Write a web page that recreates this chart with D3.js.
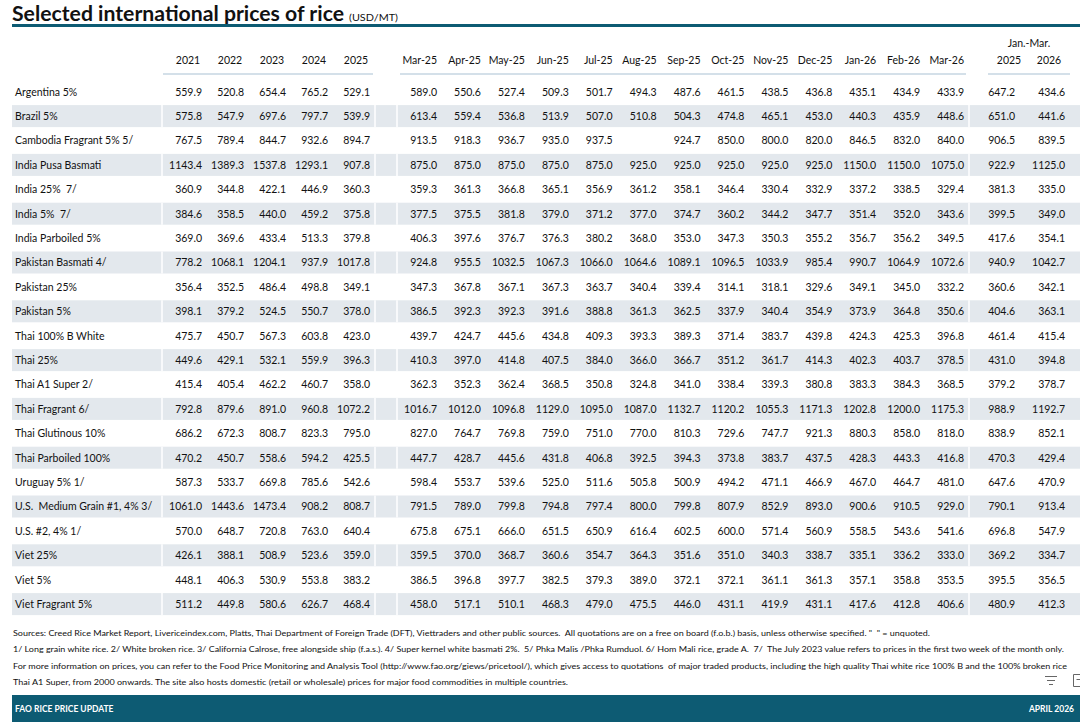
<!DOCTYPE html>
<meta charset="utf-8">
<style>
  body { margin: 0; background: #fff; }
  svg { display: block; font-family: Lato, "Open Sans", sans-serif; }
  text { white-space: pre; }
</style>
<svg width="1080" height="727"></svg>
<script src="https://d3js.org/d3.v7.min.js"></script>
<script>

  var varieties = [
    "Argentina 5%", "Brazil 5%", "Cambodia Fragrant 5% 5/", "India Pusa Basmati",
    "India 25%  7/", "India 5%  7/", "India Parboiled 5%", "Pakistan Basmati 4/",
    "Pakistan 25%", "Pakistan 5%", "Thai 100% B White", "Thai 25%",
    "Thai A1 Super 2/", "Thai Fragrant 6/", "Thai Glutinous 10%", "Thai Parboiled 100%",
    "Uruguay 5% 1/", "U.S.  Medium Grain #1, 4% 3/", "U.S. #2, 4% 1/", "Viet 25%",
    "Viet 5%", "Viet Fragrant 5%"
  ];

  var years = ["2021", "2022", "2023", "2024", "2025"];
  var months = ["Mar-25", "Apr-25", "May-25", "Jun-25", "Jul-25", "Aug-25", "Sep-25",
                "Oct-25", "Nov-25", "Dec-25", "Jan-26", "Feb-26", "Mar-26"];
  var periods = ["2025", "2026"];

  var annual = [
    [559.9, 520.8, 654.4, 765.2, 529.1],
    [575.8, 547.9, 697.6, 797.7, 539.9],
    [767.5, 789.4, 844.7, 932.6, 894.7],
    [1143.4, 1389.3, 1537.8, 1293.1, 907.8],
    [360.9, 344.8, 422.1, 446.9, 360.3],
    [384.6, 358.5, 440.0, 459.2, 375.8],
    [369.0, 369.6, 433.4, 513.3, 379.8],
    [778.2, 1068.1, 1204.1, 937.9, 1017.8],
    [356.4, 352.5, 486.4, 498.8, 349.1],
    [398.1, 379.2, 524.5, 550.7, 378.0],
    [475.7, 450.7, 567.3, 603.8, 423.0],
    [449.6, 429.1, 532.1, 559.9, 396.3],
    [415.4, 405.4, 462.2, 460.7, 358.0],
    [792.8, 879.6, 891.0, 960.8, 1072.2],
    [686.2, 672.3, 808.7, 823.3, 795.0],
    [470.2, 450.7, 558.6, 594.2, 425.5],
    [587.3, 533.7, 669.8, 785.6, 542.6],
    [1061.0, 1443.6, 1473.4, 908.2, 808.7],
    [570.0, 648.7, 720.8, 763.0, 640.4],
    [426.1, 388.1, 508.9, 523.6, 359.0],
    [448.1, 406.3, 530.9, 553.8, 383.2],
    [511.2, 449.8, 580.6, 626.7, 468.4]
  ];

  // null = unquoted
  var monthly = [
    [589.0, 550.6, 527.4, 509.3, 501.7, 494.3, 487.6, 461.5, 438.5, 436.8, 435.1, 434.9, 433.9],
    [613.4, 559.4, 536.8, 513.9, 507.0, 510.8, 504.3, 474.8, 465.1, 453.0, 440.3, 435.9, 448.6],
    [913.5, 918.3, 936.7, 935.0, 937.5, null, 924.7, 850.0, 800.0, 820.0, 846.5, 832.0, 840.0],
    [875.0, 875.0, 875.0, 875.0, 875.0, 925.0, 925.0, 925.0, 925.0, 925.0, 1150.0, 1150.0, 1075.0],
    [359.3, 361.3, 366.8, 365.1, 356.9, 361.2, 358.1, 346.4, 330.4, 332.9, 337.2, 338.5, 329.4],
    [377.5, 375.5, 381.8, 379.0, 371.2, 377.0, 374.7, 360.2, 344.2, 347.7, 351.4, 352.0, 343.6],
    [406.3, 397.6, 376.7, 376.3, 380.2, 368.0, 353.0, 347.3, 350.3, 355.2, 356.7, 356.2, 349.5],
    [924.8, 955.5, 1032.5, 1067.3, 1066.0, 1064.6, 1089.1, 1096.5, 1033.9, 985.4, 990.7, 1064.9, 1072.6],
    [347.3, 367.8, 367.1, 367.3, 363.7, 340.4, 339.4, 314.1, 318.1, 329.6, 349.1, 345.0, 332.2],
    [386.5, 392.3, 392.3, 391.6, 388.8, 361.3, 362.5, 337.9, 340.4, 354.9, 373.9, 364.8, 350.6],
    [439.7, 424.7, 445.6, 434.8, 409.3, 393.3, 389.3, 371.4, 383.7, 439.8, 424.3, 425.3, 396.8],
    [410.3, 397.0, 414.8, 407.5, 384.0, 366.0, 366.7, 351.2, 361.7, 414.3, 402.3, 403.7, 378.5],
    [362.3, 352.3, 362.4, 368.5, 350.8, 324.8, 341.0, 338.4, 339.3, 380.8, 383.3, 384.3, 368.5],
    [1016.7, 1012.0, 1096.8, 1129.0, 1095.0, 1087.0, 1132.7, 1120.2, 1055.3, 1171.3, 1202.8, 1200.0, 1175.3],
    [827.0, 764.7, 769.8, 759.0, 751.0, 770.0, 810.3, 729.6, 747.7, 921.3, 880.3, 858.0, 818.0],
    [447.7, 428.7, 445.6, 431.8, 406.8, 392.5, 394.3, 373.8, 383.7, 437.5, 428.3, 443.3, 416.8],
    [598.4, 553.7, 539.6, 525.0, 511.6, 505.8, 500.9, 494.2, 471.1, 466.9, 467.0, 464.7, 481.0],
    [791.5, 789.0, 799.8, 794.8, 797.4, 800.0, 799.8, 807.9, 852.9, 893.0, 900.6, 910.5, 929.0],
    [675.8, 675.1, 666.0, 651.5, 650.9, 616.4, 602.5, 600.0, 571.4, 560.9, 558.5, 543.6, 541.6],
    [359.5, 370.0, 368.7, 360.6, 354.7, 364.3, 351.6, 351.0, 340.3, 338.7, 335.1, 336.2, 333.0],
    [386.5, 396.8, 397.7, 382.5, 379.3, 389.0, 372.1, 372.1, 361.1, 361.3, 357.1, 358.8, 353.5],
    [458.0, 517.1, 510.1, 468.3, 479.0, 475.5, 446.0, 431.1, 419.9, 431.1, 417.6, 412.8, 406.6]
  ];

  var janMar = [
    [647.2, 434.6], [651.0, 441.6], [906.5, 839.5], [922.9, 1125.0], [381.3, 335.0],
    [399.5, 349.0], [417.6, 354.1], [940.9, 1042.7], [360.6, 342.1], [404.6, 363.1],
    [461.4, 415.4], [431.0, 394.8], [379.2, 378.7], [988.9, 1192.7], [838.9, 852.1],
    [470.3, 429.4], [647.6, 470.9], [790.1, 913.4], [696.8, 547.9], [369.2, 334.7],
    [395.5, 356.5], [480.9, 412.3]
  ];

  var footnotes = [
    "Sources: Creed Rice Market Report, Livericeindex.com, Platts, Thai Department of Foreign Trade (DFT), Viettraders and other public sources.  All quotations are on a free on board (f.o.b.) basis, unless otherwise specified. \"  \" = unquoted.",
    "1/ Long grain white rice. 2/ White broken rice. 3/ California Calrose, free alongside ship (f.a.s.). 4/ Super kernel white basmati 2%.  5/ Phka Malis /Phka Rumduol. 6/ Hom Mali rice, grade A.  7/  The July 2023 value refers to prices in the first two week of the month only.",
    "For more information on prices, you can refer to the Food Price Monitoring and Analysis Tool (http://www.fao.org/giews/pricetool/), which gives access to quotations  of major traded products, including the high quality Thai white rice 100% B and the 100% broken rice",
    "Thai A1 Super, from 2000 onwards. The site also hosts domestic (retail or wholesale) prices for major food commodities in multiple countries."
  ];
  var footWidths = [917, 1051, 1054, 555];

  // ---- layout ----
  var svg = d3.select("svg"),
      width = +svg.attr("width"),
      teal = "#0d5b73",
      stripe = "#e3e8ed",
      rule = "#c6d6e2",
      ink = "#111",
      fmt = d3.format(".1f");

  var y = d3.scaleBand().domain(varieties).range([79.5, 79.5 + 24.4 * varieties.length]);
  var xYear = d3.scalePoint().domain(years).range([202, 370]);
  var xMonth = d3.scalePoint().domain(months).range([437, 964]);
  var xPer = d3.scalePoint().domain(periods).range([1015, 1065]);
  var xPerHead = d3.scalePoint().domain(periods).range([1009, 1049]);

  // title
  svg.append("text")
      .attr("x", 12).attr("y", 21)
      .attr("font-size", 20).attr("font-weight", 700).attr("fill", ink)
      .attr("textLength", 332).attr("lengthAdjust", "spacingAndGlyphs")
      .text("Selected international prices of rice");
  svg.append("text")
      .attr("x", 349).attr("y", 21)
      .attr("font-size", 9.5).attr("fill", ink)
      .attr("textLength", 49).attr("lengthAdjust", "spacingAndGlyphs")
      .text("(USD/MT)");
  svg.append("rect")
      .attr("x", 12).attr("y", 24).attr("width", width - 12).attr("height", 3)
      .attr("fill", teal);

  // stripes
  var rows = svg.append("g");
  rows.selectAll("rect")
    .data(varieties.filter(function(d, i) { return i % 2 == 1; }))
    .enter().append("rect")
      .attr("x", 12).attr("y", function(d) { return y(d) + 1.2; })
      .attr("width", width - 12).attr("height", y.bandwidth() - 2.4)
      .attr("fill", stripe);

  // white cell borders inside the stripes
  [162, 375, 397, 969].forEach(function(cx) {
    rows.selectAll(null)
      .data(varieties.filter(function(d, i) { return i % 2 == 1; }))
      .enter().append("line")
        .attr("x1", cx).attr("x2", cx)
        .attr("y1", function(d) { return y(d) + 1.2; })
        .attr("y2", function(d) { return y(d) + y.bandwidth() - 1.2; })
        .attr("stroke", "#fff").attr("stroke-width", 1.5);
  });

  // headers
  var head = svg.append("g").attr("font-size", 10.5).attr("fill", ink);
  head.selectAll(".yh").data(years).enter().append("text")
      .attr("x", function(d) { return xYear(d) - 14; }).attr("y", 64)
      .attr("text-anchor", "middle").text(function(d) { return d; });
  head.selectAll(".mh").data(months).enter().append("text")
      .attr("x", function(d) { return xMonth(d); }).attr("y", 64)
      .attr("text-anchor", "end").text(function(d) { return d; });
  head.selectAll(".ph").data(periods).enter().append("text")
      .attr("x", function(d) { return xPerHead(d); }).attr("y", 64)
      .attr("text-anchor", "middle").text(function(d) { return d; });
  head.append("text")
      .attr("x", 1029).attr("y", 47).attr("text-anchor", "middle")
      .text("Jan.-Mar.");

  [[163, 373], [400, 966], [988, 1070]].forEach(function(s) {
    svg.append("line")
      .attr("x1", s[0]).attr("x2", s[1]).attr("y1", 74).attr("y2", 74)
      .attr("stroke", rule).attr("stroke-width", 1.6);
  });

  // row labels
  var body = svg.append("g").attr("font-size", 10.5).attr("fill", ink);
  body.selectAll(".lab").data(varieties).enter().append("text")
      .attr("x", 15)
      .attr("y", function(d) { return y(d) + y.bandwidth() / 2 + 3.8; })
      .text(function(d) { return d; });

  // value cells
  function cells(values, cols, xs) {
    var out = [];
    values.forEach(function(r, i) {
      r.forEach(function(v, j) {
        if (v != null) out.push({row: varieties[i], x: xs(cols[j]), v: v});
      });
    });
    return out;
  }
  var all = cells(annual, years, xYear)
      .concat(cells(monthly, months, xMonth))
      .concat(cells(janMar, periods, xPer));

  body.selectAll(".val").data(all).enter().append("text")
      .attr("x", function(d) { return d.x; })
      .attr("y", function(d) { return y(d.row) + y.bandwidth() / 2 + 3.8; })
      .attr("text-anchor", "end")
      .text(function(d) { return fmt(d.v); });

  // footnotes
  svg.append("g").attr("font-size", 8.2).attr("fill", ink)
    .selectAll("text").data(footnotes).enter().append("text")
      .attr("x", 13)
      .attr("y", function(d, i) { return 635.5 + i * 16.5; })
      .attr("textLength", function(d, i) { return footWidths[i]; })
      .attr("lengthAdjust", "spacingAndGlyphs")
      .text(function(d) { return d; });

  // little toolbar icons bottom right
  var ic = svg.append("g").attr("stroke", "#666").attr("stroke-width", 1);
  ic.append("line").attr("x1", 1045).attr("x2", 1057).attr("y1", 676.5).attr("y2", 676.5);
  ic.append("line").attr("x1", 1047).attr("x2", 1055).attr("y1", 680.5).attr("y2", 680.5);
  ic.append("line").attr("x1", 1049).attr("x2", 1053).attr("y1", 684.5).attr("y2", 684.5);
  ic.append("path").attr("fill", "none")
      .attr("d", "M1080,674.5 H1073.5 V686.5 H1080 M1076.5,679.5 H1080");

  // bottom band
  svg.append("rect")
      .attr("x", 12).attr("y", 695).attr("width", width - 12).attr("height", 27)
      .attr("fill", teal);
  svg.append("text")
      .attr("x", 15).attr("y", 712).attr("font-size", 8.5).attr("font-weight", 700)
      .attr("fill", "#fff").text("FAO RICE PRICE UPDATE");
  svg.append("text")
      .attr("x", 1074).attr("y", 712).attr("font-size", 8.5).attr("font-weight", 700)
      .attr("fill", "#fff").attr("text-anchor", "end").text("APRIL 2026");

</script>
